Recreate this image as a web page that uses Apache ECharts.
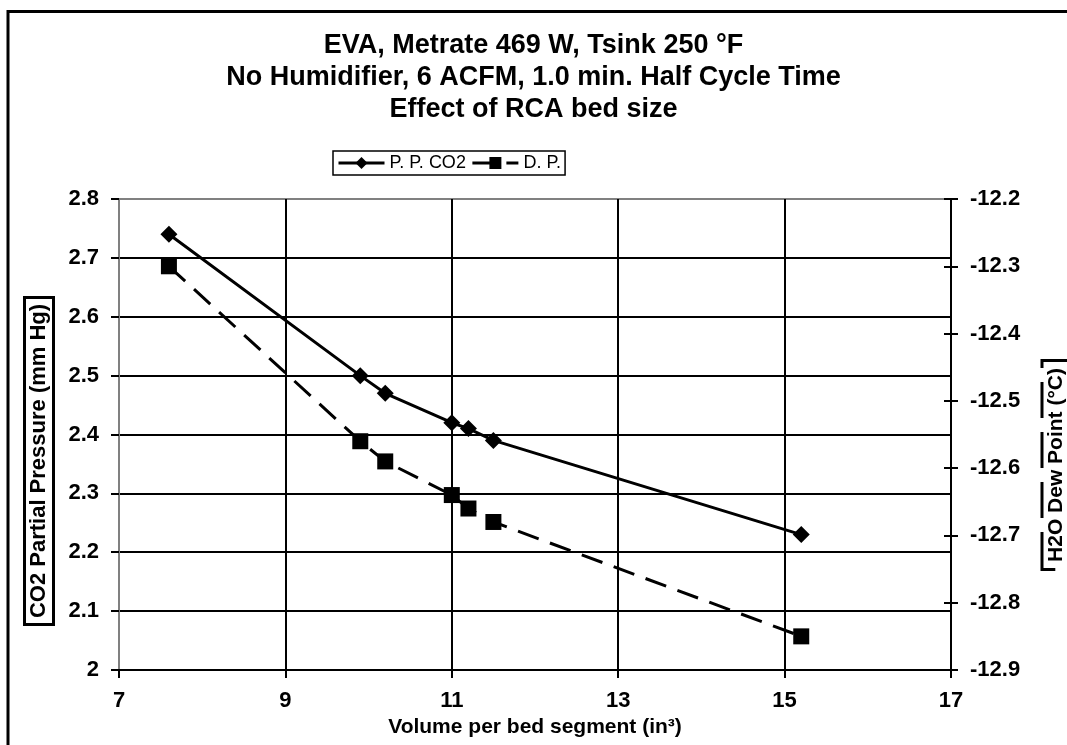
<!DOCTYPE html>
<html>
<head>
<meta charset="utf-8">
<script src="https://cdn.jsdelivr.net/npm/echarts@6/dist/echarts.min.js"></script>
<style>
  html, body { margin: 0; padding: 0; background: #fff; }
  #chart { width: 1067px; height: 745px; }
</style>
</head>
<body>
<div id="chart"></div>
<script>
// ---- data ----
const volume = [7.6, 9.9, 10.2, 11.0, 11.2, 11.5, 15.2];
const ppCO2  = [2.74, 2.50, 2.47, 2.42, 2.41, 2.39, 2.23];
const dewPt  = [-12.30, -12.56, -12.59, -12.64, -12.66, -12.68, -12.85];

const titleLines = [
    'EVA, Metrate 469 W, Tsink 250 °F',
    'No Humidifier, 6 ACFM, 1.0 min. Half Cycle Time',
    'Effect of RCA bed size'
];

const FONT = '"Liberation Sans", Arial, sans-serif';
const lblStyle = { color: '#000', fontFamily: FONT, fontWeight: 'bold', fontSize: 22 };

const chart = echarts.init(document.getElementById('chart'));
chart.setOption({
    backgroundColor: '#fff',
    animation: false,
    title: {
        text: titleLines.join('\n'),
        left: 'center', top: 25,
        textStyle: { color: '#000', fontFamily: FONT, fontWeight: 'bold', fontSize: 27, lineHeight: 32 }
    },
    legend: {
        left: 333, top: 151,
        padding: [3, 4, 3, 4],
        borderColor: '#000', borderWidth: 1.5,
        itemWidth: 46, itemHeight: 15, itemGap: 5,
        lineStyle: { width: 3 },
        textStyle: { color: '#000', fontFamily: FONT, fontSize: 18 },
        data: ['P. P. CO2', 'D. P.']
    },
    grid: {
        left: 119, right: 116, top: 199, bottom: 75,
        show: true, borderColor: '#808080', borderWidth: 2
    },
    xAxis: {
        type: 'value', min: 7, max: 17, interval: 2,
        axisLine: { lineStyle: { color: '#000', width: 2 } },
        axisTick: { show: true, length: 8, lineStyle: { color: '#000', width: 2 } },
        axisLabel: Object.assign({ margin: 20 }, lblStyle),
        splitLine: { show: true, showMinLine: false, showMaxLine: false, lineStyle: { color: '#000', width: 2 } },
        name: 'Volume per bed segment (in³)',
        nameLocation: 'middle', nameGap: 46,
        nameTextStyle: { color: '#000', fontFamily: FONT, fontWeight: 'bold', fontSize: 21 }
    },
    yAxis: [{
        type: 'value', min: 2, max: 2.8, interval: 0.1,
        axisLine: { show: true, lineStyle: { color: '#808080', width: 2 } },
        axisTick: { show: true, length: 8, lineStyle: { color: '#000', width: 2 } },
        axisLabel: Object.assign({ margin: 20, formatter: v => +v.toFixed(1) + '' }, lblStyle),
        splitLine: { show: true, showMinLine: false, showMaxLine: false, lineStyle: { color: '#000', width: 2 } }
    }, {
        type: 'value', min: -12.9, max: -12.2, interval: 0.1,
        position: 'right',
        axisLine: { show: true, lineStyle: { color: '#000', width: 2 } },
        axisTick: { show: true, length: 7, lineStyle: { color: '#000', width: 2 } },
        axisLabel: Object.assign({ margin: 19, formatter: v => v.toFixed(1) }, lblStyle),
        splitLine: { show: false }
    }, {
        // inner half of the cross ticks on the right axis
        type: 'value', min: -12.9, max: -12.2, interval: 0.1,
        position: 'right',
        axisLine: { show: false },
        axisTick: { show: true, inside: true, length: 7, lineStyle: { color: '#000', width: 2 } },
        axisLabel: { show: false },
        splitLine: { show: false }
    }],
    series: [{
        name: 'P. P. CO2', type: 'line', yAxisIndex: 0,
        data: volume.map((x, i) => [x, ppCO2[i]]),
        symbol: 'diamond', symbolSize: 17,
        itemStyle: { color: '#000' },
        lineStyle: { color: '#000', width: 3 }
    }, {
        name: 'D. P.', type: 'line', yAxisIndex: 1,
        data: volume.map((x, i) => [x, dewPt[i]]),
        symbol: 'rect', symbolSize: 16,
        itemStyle: { color: '#000' },
        lineStyle: { color: '#000', width: 3, type: [22, 12] }
    }],
    graphic: [{
        type: 'rect', silent: true,
        shape: { x: 8, y: 11.5, width: 1100, height: 800 },
        style: { fill: 'none', stroke: '#000', lineWidth: 3 }
    }, {
        type: 'text', silent: true,
        x: 39, y: 461, rotation: Math.PI / 2,
        style: {
            text: 'CO2 Partial Pressure (mm Hg)',
            fontFamily: FONT, fontWeight: 'bold', fontSize: 22, fill: '#000',
            align: 'center', verticalAlign: 'middle',
            borderColor: '#000', borderWidth: 3, padding: [3, 5, 1, 5], backgroundColor: '#fff'
        }
    }, {
        type: 'text', silent: true,
        x: 1056, y: 465, rotation: Math.PI / 2,
        style: {
            text: 'H2O Dew Point (°C)',
            fontFamily: FONT, fontWeight: 'bold', fontSize: 21, fill: '#000',
            align: 'center', verticalAlign: 'middle',
            borderColor: '#000', borderWidth: 3, borderDash: [36, 14], padding: [3, 6, 1, 6], backgroundColor: '#fff'
        }
    }]
});
</script>
</body>
</html>
